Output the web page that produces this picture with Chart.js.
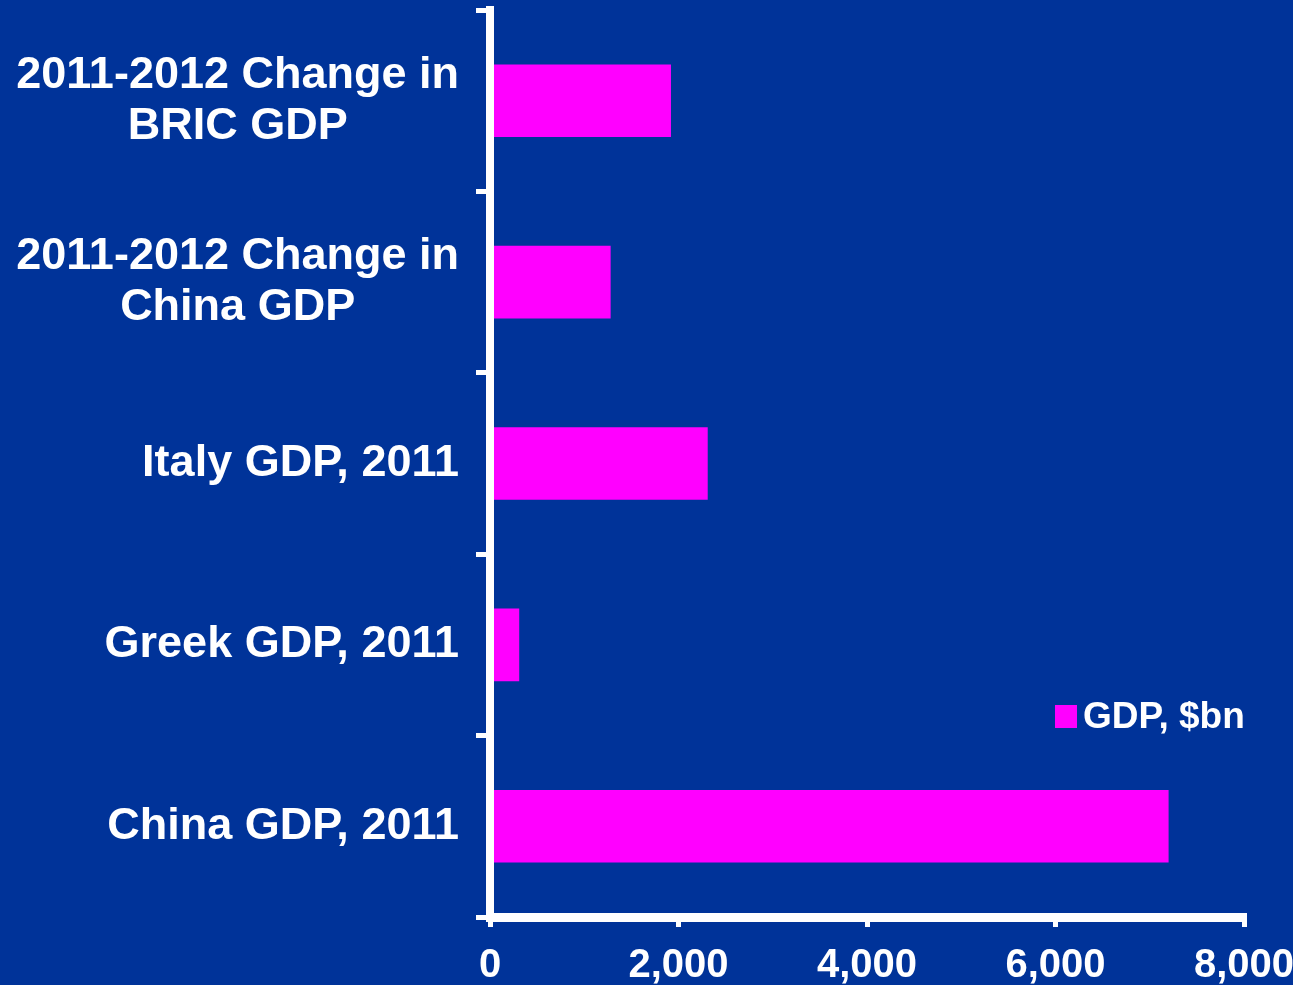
<!DOCTYPE html>
<html>
<head>
<meta charset="utf-8">
<title>GDP, $bn</title>
<script src="https://cdn.jsdelivr.net/npm/chart.js@4/dist/chart.umd.min.js"></script>
<style>
  html, body { margin: 0; padding: 0; background: #003399; }
  #wrap { width: 1293px; height: 985px; position: relative; }
</style>
</head>
<body>
<div id="wrap"><canvas id="chart"></canvas></div>
<script>
// categories, top to bottom
const categories = [
  ['2011-2012 Change in', 'BRIC GDP'],
  ['2011-2012 Change in', 'China GDP'],
  ['Italy GDP, 2011'],
  ['Greek GDP, 2011'],
  ['China GDP, 2011']
];
// GDP, $bn
const gdpValues = [1920, 1280, 2310, 310, 7200];
const xTicks = [0, 2000, 4000, 6000, 8000];
const seriesName = 'GDP, $bn';

const FONT = "'Liberation Sans', Arial, sans-serif";
const WHITE = '#ffffff';
const MAGENTA = '#ff00ff';

// y labels: single lines right aligned, two-line labels centred in their block
const yLabelPlugin = {
  id: 'yLabels',
  afterDraw(chart) {
    const ctx = chart.ctx;
    const yScale = chart.scales.y;
    const right = 459;
    const lineH = 51;
    ctx.save();
    ctx.font = 'bold 45px ' + FONT;
    ctx.fillStyle = WHITE;
    ctx.textBaseline = 'middle';
    ctx.textAlign = 'center';
    chart.data.labels.forEach((lines, i) => {
      const yc = yScale.getPixelForValue(i);
      const maxW = Math.max(...lines.map(l => ctx.measureText(l).width));
      const xc = right - maxW / 2;
      lines.forEach((l, j) => {
        const y = yc + (j - (lines.length - 1) / 2) * lineH;
        ctx.fillText(l, xc, y);
      });
    });
    ctx.restore();
  }
};

// legend sits inside the plot, lower right
const legendPlugin = {
  id: 'innerLegend',
  afterDraw(chart) {
    const ctx = chart.ctx;
    const ds = chart.data.datasets[0];
    ctx.save();
    ctx.fillStyle = ds.backgroundColor;
    ctx.fillRect(1055, 705, 22, 23);
    ctx.font = 'bold 37px ' + FONT;
    ctx.fillStyle = WHITE;
    ctx.textBaseline = 'middle';
    ctx.textAlign = 'left';
    ctx.fillText(ds.label, 1083, 718);
    ctx.restore();
  }
};

new Chart(document.getElementById('chart'), {
  type: 'bar',
  data: {
    labels: categories,
    datasets: [{
      label: seriesName,
      data: gdpValues,
      backgroundColor: MAGENTA,
      barPercentage: 0.4,
      categoryPercentage: 1
    }]
  },
  options: {
    indexAxis: 'y',
    responsive: true,
    maintainAspectRatio: false,
    animation: false,
    layout: { padding: { top: 10 } },
    plugins: {
      legend: { display: false },
      tooltip: { enabled: false }
    },
    scales: {
      x: {
        min: xTicks[0],
        max: xTicks[xTicks.length - 1],
        afterBuildTicks: (scale) => { scale.ticks = xTicks.map(v => ({ value: v })); },
        afterFit: (scale) => {
          scale.height = 68;
          scale.paddingRight = 49;
          scale.paddingLeft = 0;
        },
        ticks: {
          color: WHITE,
          font: { family: FONT, size: 40, weight: 'bold' },
          padding: 15,
          maxRotation: 0,
          autoSkip: false,
          callback: (v) => v.toLocaleString('en-US')
        },
        grid: {
          drawOnChartArea: false,
          color: WHITE,
          tickColor: WHITE,
          lineWidth: 5,
          tickLength: 10
        },
        border: { color: WHITE, width: 9, z: 1 }
      },
      y: {
        afterFit: (scale) => { scale.width = 490; },
        ticks: { display: false },
        grid: {
          offset: true,
          drawOnChartArea: false,
          color: WHITE,
          tickColor: WHITE,
          lineWidth: 5,
          tickLength: 14
        },
        border: { color: WHITE, width: 8, z: 1 }
      }
    }
  },
  plugins: [yLabelPlugin, legendPlugin]
});
</script>
</body>
</html>
